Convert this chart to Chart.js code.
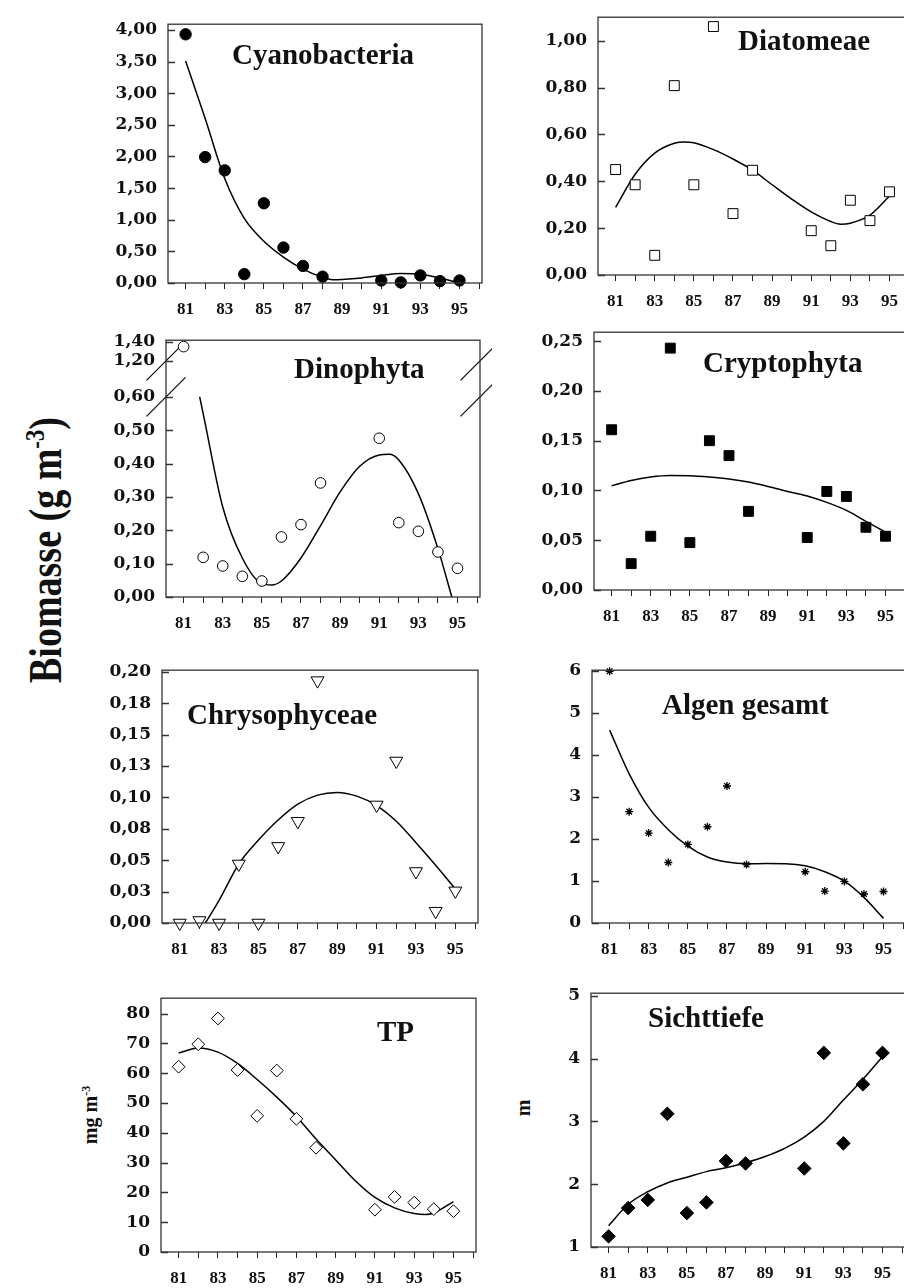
<!DOCTYPE html>
<html>
<head>
<meta charset="utf-8">
<script src="https://cdn.jsdelivr.net/npm/chart.js@4.4.1/dist/chart.umd.min.js"></script>
<style>
  html, body { margin: 0; padding: 0; background: #fff; }
  body { position: relative; width: 904px; height: 1288px; overflow: hidden; font-family: 'Liberation Serif', 'Times New Roman', serif; }
  canvas { position: absolute; }
  .ylab { position: absolute; font-weight: bold; white-space: nowrap; color: #111; line-height: 1; }
  .ylab sup { font-size: 0.6em; }
</style>
</head>
<body>
<div class="ylab" id="lab-bio" style="left:45px; top:550px; font-size:38px; transform: translate(-50%,-50%) rotate(-90deg) scaleY(1.2);">Biomasse (g m<sup>-3</sup>)</div>
<div class="ylab" id="lab-tp" style="left:90px; top:1115px; font-size:20px; transform: translate(-50%,-50%) rotate(-90deg);">mg m<sup>-3</sup></div>
<div class="ylab" id="lab-st" style="left:523px; top:1108px; font-size:20px; transform: translate(-50%,-50%) rotate(-90deg);">m</div>

<script>
// sampling years (no data for 89 and 90)
const years = [81, 82, 83, 84, 85, 86, 87, 88, 91, 92, 93, 94, 95];
const xTicks = [81, 82, 83, 84, 85, 86, 87, 88, 89, 90, 91, 92, 93, 94, 95, 96];
const xTickLabels = ['81', '', '83', '', '85', '', '87', '', '89', '', '91', '', '93', '', '95', ''];

// Cyanobacteria
const cyanoValues = [3.93, 1.99, 1.78, 0.14, 1.26, 0.56, 0.27, 0.10, 0.04, 0.01, 0.12, 0.03, 0.04];
const cyanoFitYears = [81, 82, 83, 84, 85, 86, 87, 88, 88.6, 89, 90, 91, 92, 93, 94, 95];
const cyanoFitValues = [3.51, 2.6, 1.65, 1.02, 0.66, 0.41, 0.22, 0.09, 0.05, 0.055, 0.08, 0.12, 0.15, 0.14, 0.08, 0.0];
const cyanoTicks = [0, 0.5, 1, 1.5, 2, 2.5, 3, 3.5, 4];
const cyanoTickLabels = ['0,00', '0,50', '1,00', '1,50', '2,00', '2,50', '3,00', '3,50', '4,00'];

// Diatomeae
const diatomValues = [0.45, 0.385, 0.084, 0.808, 0.385, 1.06, 0.262, 0.447, 0.189, 0.125, 0.319, 0.232, 0.355];
const diatomFitYears = [81, 82, 83, 84, 84.5, 85, 86, 87, 88, 89, 90, 91, 92, 92.5, 93, 94, 95];
const diatomFitValues = [0.289, 0.43, 0.52, 0.562, 0.568, 0.564, 0.535, 0.495, 0.447, 0.385, 0.324, 0.269, 0.228, 0.217, 0.221, 0.255, 0.337];
const diatomTicks = [0, 0.2, 0.4, 0.6, 0.8, 1.0];
const diatomTickLabels = ['0,00', '0,20', '0,40', '0,60', '0,80', '1,00'];

// Dinophyta (broken axis between 0.60 and 1.20)
const dinoValues = [1.35, 0.119, 0.093, 0.062, 0.048, 0.18, 0.217, 0.342, 0.476, 0.223, 0.197, 0.135, 0.086];
const dinoFitYears = [81.82, 82, 83, 84, 85, 85.5, 86, 87, 88, 89, 90, 91, 91.5, 92, 93, 94, 94.71];
const dinoFitValues = [0.60, 0.55, 0.27, 0.117, 0.04, 0.036, 0.048, 0.117, 0.214, 0.315, 0.392, 0.426, 0.428, 0.411, 0.31, 0.145, 0];
const dinoTicks = [0, 0.1, 0.2, 0.3, 0.4, 0.5, 0.6, 1.2, 1.4];
const dinoTickLabels = ['0,00', '0,10', '0,20', '0,30', '0,40', '0,50', '0,60', '1,20', '1,40'];

// Cryptophyta
const cryptoValues = [0.161, 0.0265, 0.054, 0.243, 0.0476, 0.150, 0.135, 0.079, 0.0527, 0.099, 0.094, 0.063, 0.054];
const cryptoFitYears = [81, 82, 83, 84, 85, 86, 87, 88, 89, 90, 91, 92, 93, 94, 95];
const cryptoFitValues = [0.1046, 0.110, 0.1135, 0.115, 0.1148, 0.1135, 0.1115, 0.1084, 0.104, 0.099, 0.0945, 0.088, 0.080, 0.069, 0.058];
const cryptoTicks = [0, 0.05, 0.10, 0.15, 0.20, 0.25];
const cryptoTickLabels = ['0,00', '0,05', '0,10', '0,15', '0,20', '0,25'];

// Chrysophyceae
const chrysoValues = [0, 0.002, 0, 0.047, 0, 0.061, 0.081, 0.193, 0.094, 0.129, 0.041, 0.0094, 0.0256];
const chrysoFitYears = [82.3, 83, 84, 85, 86, 87, 88, 89, 90, 91, 92, 93, 94, 95];
const chrysoFitValues = [0, 0.018, 0.047, 0.066, 0.082, 0.0946, 0.1018, 0.104, 0.101, 0.0935, 0.081, 0.064, 0.046, 0.027];
const chrysoTicks = [0, 0.025, 0.05, 0.075, 0.10, 0.125, 0.15, 0.175, 0.20];
const chrysoTickLabels = ['0,00', '0,03', '0,05', '0,08', '0,10', '0,13', '0,15', '0,18', '0,20'];

// Algen gesamt
const algenValues = [5.99, 2.65, 2.14, 1.44, 1.87, 2.29, 3.26, 1.39, 1.22, 0.76, 0.99, 0.69, 0.75];
const algenFitYears = [81, 82, 83, 84, 85, 86, 87, 88, 89, 90, 91, 92, 93, 94, 95];
const algenFitValues = [4.59, 3.55, 2.75, 2.22, 1.83, 1.57, 1.45, 1.41, 1.415, 1.41, 1.36, 1.22, 0.995, 0.61, 0.11];
const algenTicks = [0, 1, 2, 3, 4, 5, 6];
const algenTickLabels = ['0', '1', '2', '3', '4', '5', '6'];

// TP
const tpValues = [62.2, 69.75, 78.4, 61.1, 45.7, 60.9, 44.7, 35.0, 14.2, 18.5, 16.6, 14.4, 13.7];
const tpFitYears = [81, 82, 83, 84, 85, 86, 87, 88, 89, 90, 91, 92, 93, 93.6, 94, 95];
const tpFitValues = [66.8, 68.5, 67.1, 63.3, 57.9, 52.0, 45.5, 37.9, 30.9, 23.9, 18.3, 14.8, 12.9, 12.6, 13.1, 16.9];
const tpTicks = [0, 10, 20, 30, 40, 50, 60, 70, 80];
const tpTickLabels = ['0', '10', '20', '30', '40', '50', '60', '70', '80'];

// Sichttiefe
const secchiValues = [1.17, 1.62, 1.75, 3.12, 1.54, 1.71, 2.37, 2.33, 2.25, 4.09, 2.65, 3.59, 4.09];
const secchiFitYears = [81, 82, 83, 84, 85, 86, 87, 88, 89, 90, 91, 92, 93, 94, 95];
const secchiFitValues = [1.34, 1.68, 1.88, 2.02, 2.11, 2.20, 2.26, 2.34, 2.44, 2.57, 2.75, 3.00, 3.34, 3.67, 4.03];
const secchiTicks = [1, 2, 3, 4, 5];
const secchiTickLabels = ['1', '2', '3', '4', '5'];


// broken y scale: real value -> compressed axis value
function dinoSquash(v) {
  if (v <= 0.6) return v;
  if (v >= 1.2) return 0.708 + (v - 1.2) * 0.285;
  return 0.6 + (v - 0.6) * (0.108 / 0.6);
}
function dinoUnsquash(d) {
  if (d <= 0.6) return d;
  if (d >= 0.708) return 1.2 + (d - 0.708) / 0.285;
  return 0.6 + (d - 0.6) * (0.6 / 0.108);
}

class BrokenLinearScale extends Chart.LinearScale {
  getPixelForValue(value) {
    return super.getPixelForValue(value == null ? value : dinoSquash(value));
  }
  getValueForPixel(pixel) {
    return dinoUnsquash(super.getValueForPixel(pixel));
  }
}
BrokenLinearScale.id = 'brokenLinear';
BrokenLinearScale.defaults = {};
Chart.register(BrokenLinearScale);


const AXIS_W = 75, AXIS_H = 45, PAD_T = 12, PAD_R = 12;

const panelDeco = {
  id: 'panelDeco',
  beforeDatasetsDraw(chart, args, o) {
    if (!o.breaks) return;
    const { ctx, chartArea: a } = chart;
    const ys = chart.scales.y;
    ctx.save();
    ctx.strokeStyle = '#111';
    ctx.lineWidth = 1.3;
    ctx.beginPath();
    o.breaks.forEach(v => {
      const y = ys.getPixelForValue(v);
      [a.left, a.right].forEach(x => {
        ctx.moveTo(x - 19.5, y + 19.5);
        ctx.lineTo(x + 19.5, y - 19.5);
      });
    });
    ctx.stroke();
    ctx.restore();
  },
  afterDraw(chart, args, o) {
    const { ctx, chartArea: a } = chart;
    const ys = chart.scales.y;
    ctx.save();
    ctx.strokeStyle = '#333';
    ctx.lineWidth = 1.3;
    ctx.strokeRect(a.left, a.top, a.right - a.left, a.bottom - a.top);
    // y ticks point inwards
    ctx.beginPath();
    ys.ticks.forEach(t => {
      const y = Math.round(ys.getPixelForValue(t.value)) + 0.5;
      ctx.moveTo(a.left, y);
      ctx.lineTo(a.left + 7, y);
    });
    ctx.stroke();
    ctx.fillStyle = '#111';
    ctx.font = 'bold 29px "Liberation Serif"';
    ctx.textBaseline = 'alphabetic';
    ctx.fillText(o.title, a.left + o.tx, a.top + o.ty);
    ctx.restore();
  }
};

function makePanel(p) {
  const c = document.createElement('canvas');
  const w = p.box[2] - p.box[0] + AXIS_W + PAD_R;
  const h = p.box[3] - p.box[1] + PAD_T + AXIS_H;
  c.width = w;
  c.height = h;
  c.style.width = w + 'px';
  c.style.height = h + 'px';
  c.style.left = (p.box[0] - AXIS_W) + 'px';
  c.style.top = (p.box[1] - PAD_T) + 'px';
  document.body.appendChild(c);

  const points = years.map((x, i) => ({ x, y: p.values[i] }));
  const fit = p.fitYears.map((x, i) => ({ x, y: p.fitValues[i] }));

  return new Chart(c, {
    type: 'scatter',
    data: {
      datasets: [
        {
          data: points,
          showLine: false,
          pointStyle: p.marker.style,
          pointRadius: p.marker.r,
          pointRotation: p.marker.rot || 0,
          pointBackgroundColor: p.marker.fill,
          pointBorderColor: '#000',
          pointBorderWidth: p.marker.bw || 1,
          clip: false
        },
        {
          data: fit,
          showLine: true,
          pointRadius: 0,
          borderColor: '#000',
          borderWidth: 1.5,
          cubicInterpolationMode: 'monotone',
          fill: false
        }
      ]
    },
    options: {
      responsive: false,
      animation: false,
      events: [],
      layout: { padding: { left: 0, top: PAD_T, right: PAD_R, bottom: 0 } },
      plugins: {
        legend: { display: false },
        tooltip: { enabled: false },
        panelDeco: { title: p.title, tx: p.tx, ty: p.ty, breaks: p.breaks || null }
      },
      scales: {
        x: {
          type: 'linear',
          min: 80.1,
          max: 96.15,
          afterBuildTicks: ax => { ax.ticks = xTicks.map(v => ({ value: v })); },
          afterFit: s => { s.height = AXIS_H; },
          grid: { drawOnChartArea: false, drawTicks: true, tickLength: 6, color: '#222', lineWidth: 1 },
          border: { display: false },
          ticks: {
            autoSkip: false,
            maxRotation: 0,
            padding: 10,
            color: '#111',
            font: { family: 'Liberation Serif', weight: 'bold', size: 17 },
            callback: (v, i) => xTickLabels[i]
          }
        },
        y: {
          type: p.scaleType || 'linear',
          min: p.yMin,
          max: p.yMax,
          afterBuildTicks: ax => { ax.ticks = p.ticks.map(v => ({ value: v })); },
          afterFit: s => { s.width = AXIS_W; },
          grid: { display: false, drawTicks: false },
          border: { display: false },
          ticks: {
            autoSkip: false,
            padding: 11,
            color: '#111',
            font: { family: 'DejaVu Serif', weight: 'bold', size: 17 },
            callback: (v, i) => p.tickLabels[i]
          }
        }
      }
    },
    plugins: [panelDeco]
  });
}

makePanel({
  box: [168, 15, 482, 283], yMin: 0, yMax: 4.09,
  values: cyanoValues, fitYears: cyanoFitYears, fitValues: cyanoFitValues,
  ticks: cyanoTicks, tickLabels: cyanoTickLabels,
  marker: { style: 'circle', r: 5.7, fill: '#000' },
  title: 'Cyanobacteria', tx: 64, ty: 40
});

makePanel({
  box: [598, 8, 912, 275], yMin: 0, yMax: 1.10,
  values: diatomValues, fitYears: diatomFitYears, fitValues: diatomFitValues,
  ticks: diatomTicks, tickLabels: diatomTickLabels,
  marker: { style: 'rect', r: 7, fill: '#fff' },
  title: 'Diatomeae', tx: 140, ty: 33
});

makePanel({
  box: [166, 331, 480, 597], yMin: 0, yMax: 0.770, scaleType: 'brokenLinear',
  values: dinoValues, fitYears: dinoFitYears, fitValues: dinoFitValues,
  ticks: dinoTicks, tickLabels: dinoTickLabels,
  marker: { style: 'circle', r: 5.3, fill: '#fff' },
  title: 'Dinophyta', tx: 128, ty: 38, breaks: [1.2, 0.6]
});

makePanel({
  box: [594, 323, 908, 590], yMin: 0, yMax: 0.259,
  values: cryptoValues, fitYears: cryptoFitYears, fitValues: cryptoFitValues,
  ticks: cryptoTicks, tickLabels: cryptoTickLabels,
  marker: { style: 'rect', r: 7, fill: '#000' },
  title: 'Cryptophyta', tx: 109, ty: 40
});

makePanel({
  box: [162, 661, 478, 923], yMin: 0, yMax: 0.2013,
  values: chrysoValues, fitYears: chrysoFitYears, fitValues: chrysoFitValues,
  ticks: chrysoTicks, tickLabels: chrysoTickLabels,
  marker: { style: 'triangle', r: 7.5, rot: 180, fill: '#fff' },
  title: 'Chrysophyceae', tx: 25, ty: 54
});

makePanel({
  box: [592, 661, 906, 923], yMin: 0, yMax: 6.015,
  values: algenValues, fitYears: algenFitYears, fitValues: algenFitValues,
  ticks: algenTicks, tickLabels: algenTickLabels,
  marker: { style: 'star', r: 4, fill: '#000', bw: 1.3 },
  title: 'Algen gesamt', tx: 70, ty: 44
});

makePanel({
  box: [161, 989, 476, 1252], yMin: 0, yMax: 85.2,
  values: tpValues, fitYears: tpFitYears, fitValues: tpFitValues,
  ticks: tpTicks, tickLabels: tpTickLabels,
  marker: { style: 'rectRot', r: 6.4, fill: '#fff' },
  title: 'TP', tx: 216, ty: 43
});

makePanel({
  box: [591, 984, 905, 1247], yMin: 1, yMax: 5.04,
  values: secchiValues, fitYears: secchiFitYears, fitValues: secchiFitValues,
  ticks: secchiTicks, tickLabels: secchiTickLabels,
  marker: { style: 'rectRot', r: 6.8, fill: '#000' },
  title: 'Sichttiefe', tx: 57, ty: 34
});
</script>
</body>
</html>
